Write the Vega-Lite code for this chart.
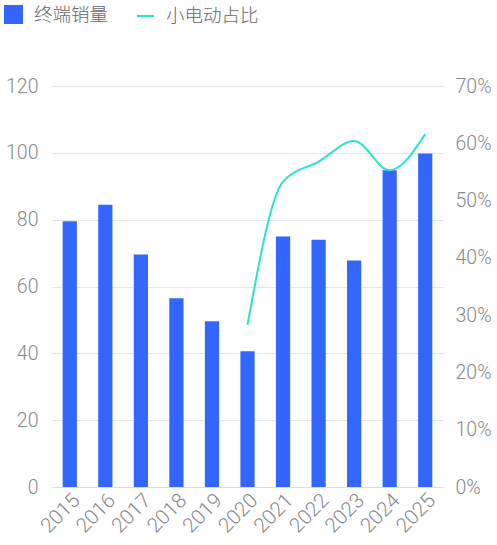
{
  "$schema": "https://vega.github.io/schema/vega-lite/v6.json",
  "autosize": {"type": "none"},
  "width": 391,
  "height": 401,
  "padding": {"left": 52, "top": 86, "right": 54, "bottom": 58},
  "background": "white",
  "config": {
    "view": {"stroke": null},
    "font": "Roboto",
    "axis": {"labelFont": "Roboto", "labelFontWeight": 300, "labelColor": "#888888", "labelFontSize": 19.5, "ticks": false, "domain": false}
  },
  "data": {
    "values": [
      {"year": "2015", "sales": 79.5, "share": null},
      {"year": "2016", "sales": 84.5, "share": null},
      {"year": "2017", "sales": 69.6, "share": null},
      {"year": "2018", "sales": 56.5, "share": null},
      {"year": "2019", "sales": 49.6, "share": null},
      {"year": "2020", "sales": 40.6, "share": 0.283},
      {"year": "2021", "sales": 75.0, "share": 0.533},
      {"year": "2022", "sales": 74.0, "share": 0.568},
      {"year": "2023", "sales": 67.8, "share": 0.604},
      {"year": "2024", "sales": 94.8, "share": 0.553},
      {"year": "2025", "sales": 99.8, "share": 0.616}
    ]
  },
  "encoding": {
    "x": {
      "field": "year", "type": "ordinal", "title": null,
      "scale": {"paddingInner": 0.6, "paddingOuter": 0.3},
      "axis": {"labelAngle": -45, "labelAlign": "right", "labelBaseline": "top", "labelPadding": 3, "labelFontSize": 20.5, "domain": true, "domainColor": "#dddddd", "grid": false}
    }
  },
  "layer": [
    {
      "mark": {"type": "bar"},
      "encoding": {
        "y": {
          "field": "sales", "type": "quantitative", "title": null,
          "scale": {"domain": [0, 120]},
          "axis": {"values": [0, 20, 40, 60, 80, 100, 120], "grid": true, "gridColor": "#e6e6e6", "labelPadding": 14}
        },
        "color": {
          "datum": "终端销量",
          "scale": {"domain": ["终端销量", "小电动占比"], "range": ["#3366ff", "#2be5c4"]},
          "legend": {
            "title": null, "orient": "none", "legendX": -48, "legendY": -81, "direction": "horizontal",
            "labelFontSize": 18.5, "labelColor": "#666666", "labelFont": "Noto Sans CJK SC", "labelFontWeight": 300,
            "symbolSize": 289, "columnPadding": 24, "labelOffset": 11, "symbolStrokeWidth": 2,
            "encode": {
              "symbols": {
                "update": {
                  "shape": {"signal": "datum.value === '小电动占比' ? 'stroke' : 'square'"},
                  "fill": {"signal": "datum.value === '小电动占比' ? 'transparent' : '#3366ff'"},
                  "stroke": {"signal": "datum.value === '小电动占比' ? '#2be5c4' : 'transparent'"},
                  "strokeWidth": {"value": 2}
                }
              }
            }
          }
        }
      }
    },
    {
      "mark": {"type": "line", "interpolate": "monotone", "strokeWidth": 2},
      "transform": [{"filter": "datum.share != null"}],
      "encoding": {
        "y": {
          "field": "share", "type": "quantitative", "title": null,
          "scale": {"domain": [0, 0.7]},
          "axis": {"orient": "right", "format": ".0%", "values": [0, 0.1, 0.2, 0.3, 0.4, 0.5, 0.6, 0.7], "grid": false, "labelPadding": 12}
        },
        "color": {"datum": "小电动占比"}
      }
    }
  ],
  "resolve": {"scale": {"y": "independent"}}
}
